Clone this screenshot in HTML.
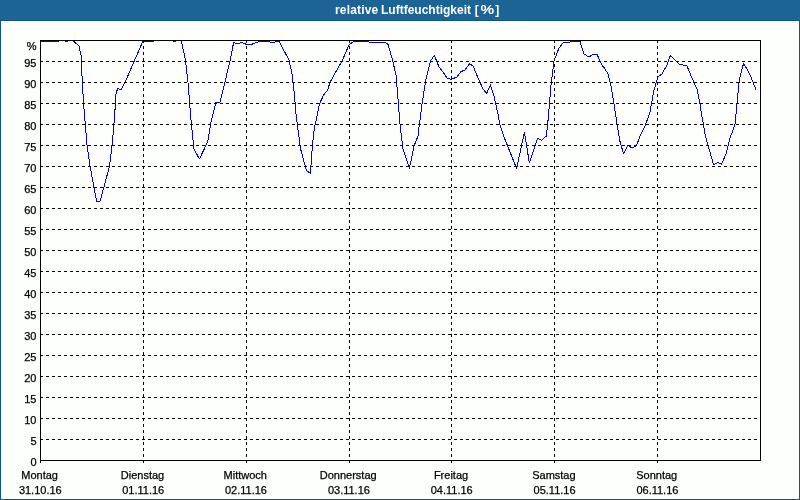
<!DOCTYPE html>
<html><head><meta charset="utf-8"><title>relative Luftfeuchtigkeit</title>
<style>
html,body{margin:0;padding:0;background:#fdfffc;}
body{width:800px;height:500px;overflow:hidden;position:relative;font-family:"Liberation Sans",sans-serif;}
#win{position:absolute;left:0;top:0;width:798px;height:478px;border:1px solid #0c5591;border-top-width:21px;background:#fdfffc;}
#title{position:absolute;left:0;top:0;width:800px;height:20px;background:#1c6396;color:#fff;font-weight:bold;font-size:12px;line-height:20px;white-space:nowrap;}
#title span{position:absolute;top:0;}
svg{position:absolute;left:0;top:0;}
.g{stroke:#000;stroke-width:1;stroke-dasharray:3 3;shape-rendering:crispEdges;fill:none;}
.f{stroke:#000;stroke-width:1;shape-rendering:crispEdges;fill:none;}
.d{stroke:#0000ee;stroke-width:1;shape-rendering:crispEdges;fill:none;stroke-linejoin:round;}
text{font-family:"Liberation Sans",sans-serif;font-size:11px;fill:#000;stroke:#000;stroke-width:0.25px;}
.yl{text-anchor:end;}
.xl{text-anchor:middle;}
</style></head><body>
<div id="win"></div>
<div id="title"><span style="left:335px;letter-spacing:0.17px">relative </span><span style="left:381px;letter-spacing:0">Luftfeuchtigkeit </span><span style="left:474.7px">[</span><span style="left:482.2px;transform:scaleX(1.28);transform-origin:50% 50%">%</span><span style="left:495.3px">]</span></div>
<svg width="800" height="500" viewBox="0 0 800 500">
<polyline points="40.0,41.0 59.0,41.0 60.0,40.0 64.0,40.0 65.0,41.0 68.0,41.0 69.0,40.0 73.0,40.0 74.0,41.5 79.0,46.0 81.0,55.0 82.3,82.0 83.6,104.0 84.6,116.0 87.0,145.0 90.0,166.0 96.6,201.4 100.0,201.4 109.6,166.0 112.0,145.0 113.5,130.0 114.6,116.0 116.0,94.0 117.6,88.4 121.0,90.0 125.0,82.4 134.0,61.6 143.0,41.0 154.0,41.0 155.0,40.0 172.0,40.0 173.0,41.0 176.0,41.0 177.0,40.0 180.5,40.0 181.5,41.5 185.6,61.0 188.0,82.4 190.0,108.0 190.6,116.0 192.6,136.0 194.0,149.0 199.4,159.0 207.6,142.0 210.0,128.0 211.0,122.0 212.4,116.0 216.0,102.0 220.0,102.0 221.6,96.0 230.0,61.0 233.6,42.6 237.0,43.6 242.0,42.6 247.0,44.6 251.0,44.6 259.0,41.6 266.0,41.4 272.0,42.4 279.0,41.4 289.0,60.0 292.0,74.0 294.4,94.0 296.2,116.0 298.0,130.0 300.6,149.0 306.4,170.4 310.4,173.4 312.4,146.0 314.4,128.0 316.6,118.0 319.4,104.0 323.6,95.0 327.6,90.0 330.0,82.4 334.0,75.0 342.0,61.0 349.0,45.0 353.0,42.0 359.0,41.4 368.0,41.4 370.0,42.4 385.0,42.4 388.0,44.4 392.0,58.0 396.0,75.0 398.4,104.0 399.6,120.0 400.4,128.0 403.0,149.0 409.4,168.4 414.0,146.0 418.0,136.0 419.4,124.0 420.6,116.0 422.0,104.0 426.0,79.0 430.4,61.0 434.4,55.4 439.0,67.0 443.0,72.0 447.0,78.0 451.0,79.4 457.0,77.0 461.0,71.6 465.0,70.0 469.6,63.6 473.0,66.0 480.0,82.4 483.0,89.0 486.6,93.4 490.4,85.0 494.0,96.0 498.4,116.0 499.4,123.0 503.6,136.0 516.6,168.4 524.4,132.4 529.4,163.0 537.6,138.4 541.6,140.4 546.4,136.0 547.6,125.0 548.6,114.0 551.0,85.0 554.0,61.0 559.0,48.0 563.0,43.0 569.0,42.4 571.0,41.4 580.0,41.4 582.0,48.0 584.0,54.0 589.0,57.0 593.0,54.4 597.0,54.4 602.0,65.0 605.0,69.0 608.0,74.0 611.0,86.0 614.0,104.0 615.8,116.0 617.0,124.0 619.6,140.0 623.6,154.0 628.0,145.4 632.0,148.0 636.4,146.0 640.0,136.0 645.0,126.0 648.6,116.0 650.0,112.0 654.0,90.0 658.0,77.0 662.0,74.0 667.0,65.0 670.4,55.4 679.0,64.0 683.0,65.0 687.0,66.0 692.0,78.0 697.0,89.0 700.0,104.0 701.8,116.0 703.0,122.0 705.4,136.0 713.6,165.0 718.0,162.4 721.4,164.4 726.0,154.0 730.0,138.0 733.0,130.0 735.0,124.0 736.0,114.0 737.0,104.0 739.4,79.0 743.6,63.4 747.0,69.0 751.0,77.0 756.0,90.0" class="d"/>
<line x1="40" y1="61.5" x2="761" y2="61.5" class="g"/>
<line x1="40" y1="82.5" x2="761" y2="82.5" class="g"/>
<line x1="40" y1="103.5" x2="761" y2="103.5" class="g"/>
<line x1="40" y1="124.5" x2="761" y2="124.5" class="g"/>
<line x1="40" y1="145.5" x2="761" y2="145.5" class="g"/>
<line x1="40" y1="166.5" x2="761" y2="166.5" class="g"/>
<line x1="40" y1="187.5" x2="761" y2="187.5" class="g"/>
<line x1="40" y1="208.5" x2="761" y2="208.5" class="g"/>
<line x1="40" y1="229.5" x2="761" y2="229.5" class="g"/>
<line x1="40" y1="250.5" x2="761" y2="250.5" class="g"/>
<line x1="40" y1="271.5" x2="761" y2="271.5" class="g"/>
<line x1="40" y1="292.5" x2="761" y2="292.5" class="g"/>
<line x1="40" y1="313.5" x2="761" y2="313.5" class="g"/>
<line x1="40" y1="334.5" x2="761" y2="334.5" class="g"/>
<line x1="40" y1="355.5" x2="761" y2="355.5" class="g"/>
<line x1="40" y1="376.5" x2="761" y2="376.5" class="g"/>
<line x1="40" y1="397.5" x2="761" y2="397.5" class="g"/>
<line x1="40" y1="418.5" x2="761" y2="418.5" class="g"/>
<line x1="40" y1="439.5" x2="761" y2="439.5" class="g"/>
<line x1="143.5" y1="40" x2="143.5" y2="463" class="g"/>
<line x1="246.5" y1="40" x2="246.5" y2="463" class="g"/>
<line x1="349.5" y1="40" x2="349.5" y2="463" class="g"/>
<line x1="451.5" y1="40" x2="451.5" y2="463" class="g"/>
<line x1="554.5" y1="40" x2="554.5" y2="463" class="g"/>
<line x1="657.5" y1="40" x2="657.5" y2="463" class="g"/>
<rect x="40.5" y="40.5" width="720" height="420" class="f"/>
<line x1="40.5" y1="460" x2="40.5" y2="463" class="f"/>
<text x="36.5" y="50" class="yl">%</text>
<text x="36.5" y="67" class="yl">95</text>
<text x="36.5" y="88" class="yl">90</text>
<text x="36.5" y="109" class="yl">85</text>
<text x="36.5" y="130" class="yl">80</text>
<text x="36.5" y="151" class="yl">75</text>
<text x="36.5" y="172" class="yl">70</text>
<text x="36.5" y="193" class="yl">65</text>
<text x="36.5" y="214" class="yl">60</text>
<text x="36.5" y="235" class="yl">55</text>
<text x="36.5" y="256" class="yl">50</text>
<text x="36.5" y="277" class="yl">45</text>
<text x="36.5" y="298" class="yl">40</text>
<text x="36.5" y="319" class="yl">35</text>
<text x="36.5" y="340" class="yl">30</text>
<text x="36.5" y="361" class="yl">25</text>
<text x="36.5" y="382" class="yl">20</text>
<text x="36.5" y="403" class="yl">15</text>
<text x="36.5" y="424" class="yl">10</text>
<text x="36.5" y="445" class="yl">5</text>
<text x="36.5" y="466" class="yl">0</text>
<text x="39.6" y="479" class="xl">Montag</text>
<text x="40.3" y="494" class="xl">31.10.16</text>
<text x="142.5" y="479" class="xl">Dienstag</text>
<text x="143.2" y="494" class="xl">01.11.16</text>
<text x="245.3" y="479" class="xl">Mittwoch</text>
<text x="246.0" y="494" class="xl">02.11.16</text>
<text x="348.2" y="479" class="xl">Donnerstag</text>
<text x="348.9" y="494" class="xl">03.11.16</text>
<text x="451.0" y="479" class="xl">Freitag</text>
<text x="451.7" y="494" class="xl">04.11.16</text>
<text x="553.9" y="479" class="xl">Samstag</text>
<text x="554.6" y="494" class="xl">05.11.16</text>
<text x="656.7" y="479" class="xl">Sonntag</text>
<text x="657.4" y="494" class="xl">06.11.16</text>
</svg>
</body></html>
